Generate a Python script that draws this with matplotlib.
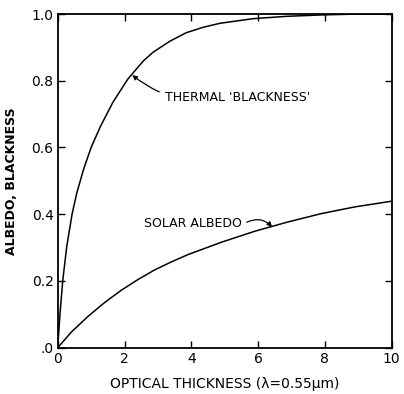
import matplotlib.pyplot as plt
import numpy as np

# values
tau = [0, 0.07, 0.15, 0.27, 0.43, 0.57, 0.77, 1.0, 1.28, 1.65, 2.1, 2.57, 2.85, 3.35,
       3.85, 4.35, 4.85, 5.85, 6.85, 7.85, 9.0, 10.0]
thermal = [0, 0.103, 0.2, 0.303, 0.4, 0.463, 0.533, 0.6, 0.663, 0.735, 0.805, 0.86, 0.885, 0.918,
           0.944, 0.96, 0.972, 0.986, 0.993, 0.997, 1.0, 1.0]

tau_s = [0, 0.42, 0.91, 1.4, 1.9, 2.4, 2.9, 3.4, 3.9, 4.9, 5.9, 6.9, 7.9, 8.9, 10.0]
solar = [0, 0.048, 0.094, 0.135, 0.172, 0.204, 0.233, 0.257, 0.279, 0.316, 0.349, 0.377, 0.402, 0.422, 0.439]

xticks = [0, 2, 4, 6, 8, 10]
xticklabels = ["0", "2", "4", "6", "8", "10"]
yticks = [0, 0.2, 0.4, 0.6, 0.8, 1.0]
yticklabels = [".0", "0.2", "0.4", "0.6", "0.8", "1.0"]

plt.rcParams['font.family'] = ['DejaVu Sans']

fig = plt.figure(figsize=(4.04, 3.94), dpi=100)
ax = fig.add_axes([57.7/404, (394-347.7)/394, (391.7-57.7)/404, (347.7-14)/394])

ax.plot(tau, thermal, color="black", lw=1.1, solid_joinstyle="round")
ax.plot(tau_s, solar, color="black", lw=1.1, solid_joinstyle="round")

ax.set_xlim(0, 10)
ax.set_ylim(0, 1.0)
ax.set_xticks(xticks)
ax.set_xticklabels(xticklabels, fontsize=10)
ax.set_yticks(yticks)
ax.set_yticklabels(yticklabels, fontsize=10)
ax.tick_params(direction="in", top=True, right=True, length=5, width=1, pad=3)
for s in ax.spines.values():
    s.set_linewidth(1.3)

ax.set_xlabel("OPTICAL THICKNESS (\u03bb=0.55\u03bcm)", fontsize=10, labelpad=8)
ax.set_ylabel("ALBEDO, BLACKNESS", fontsize=9, fontweight="bold", labelpad=10)

ax.annotate("THERMAL 'BLACKNESS'", xy=(2.23, 0.817), xytext=(3.2, 0.75),
            fontsize=9, va="center", ha="left",
            arrowprops=dict(arrowstyle="-|>", color="black", lw=0.9,
                            connectionstyle="arc3,rad=-0.25", shrinkA=2, shrinkB=0,
                            mutation_scale=7))
ax.text(2.57, 0.373, "SOLAR ALBEDO", fontsize=9, va="center", ha="left")
ax.annotate("", xy=(6.42, 0.362), xytext=(5.66, 0.376),
            arrowprops=dict(arrowstyle="-|>", color="black", lw=0.9,
                            connectionstyle="arc3,rad=-0.35", shrinkA=0, shrinkB=0,
                            mutation_scale=7))

fig.savefig("out.png", dpi=100)
